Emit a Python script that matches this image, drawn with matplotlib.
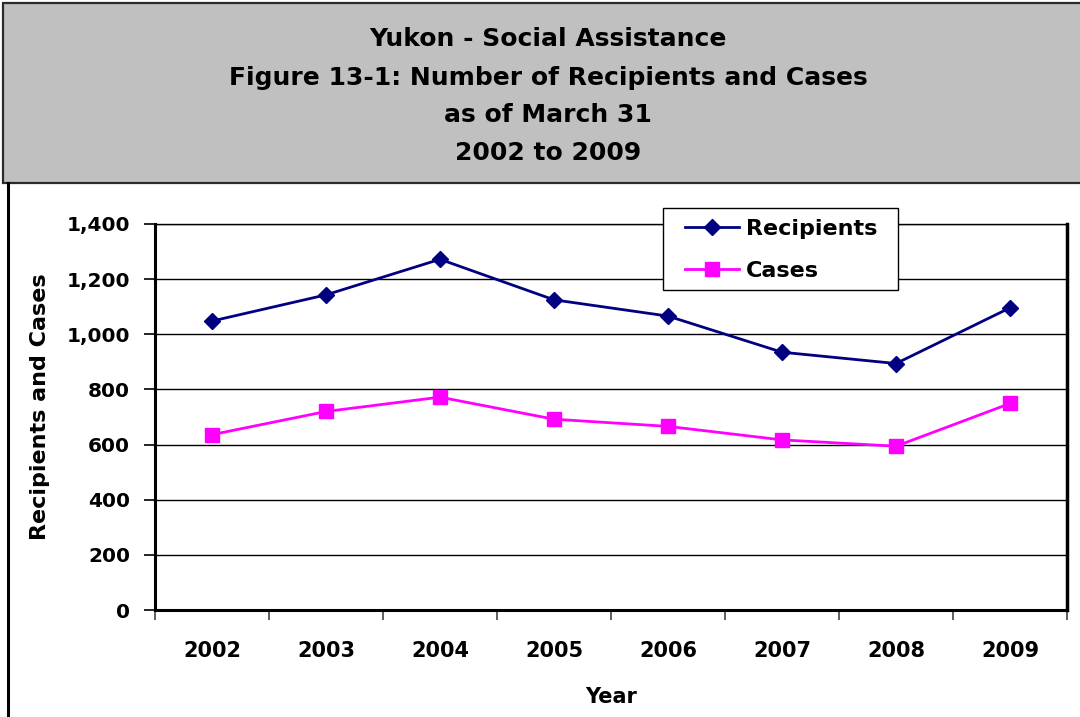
import matplotlib
matplotlib.use("Agg")
import matplotlib.pyplot as plt
from matplotlib.patches import Rectangle
from matplotlib.lines import Line2D
from matplotlib.ticker import FuncFormatter, FixedLocator, NullFormatter
import numpy as np

years = ["2002", "2003", "2004", "2005", "2006", "2007", "2008", "2009"]
recipients = [1048, 1143, 1272, 1125, 1066, 935, 894, 1096]
cases = [636, 720, 772, 692, 666, 617, 594, 749]
y_ticks = [0, 200, 400, 600, 800, 1000, 1200, 1400]
title_lines = [
    "Yukon - Social Assistance",
    "Figure 13-1: Number of Recipients and Cases",
    "as of March 31",
    "2002 to 2009",
]

W, H = 1080, 717
plt.rcParams["font.family"] = ["DejaVu Sans"]
plt.rcParams["font.weight"] = "bold"

fig = plt.figure(figsize=(W / 100, H / 100), dpi=100)
fig.patch.set_facecolor("white")


def fx(px):
    return px / W


def fy(py):
    return 1 - py / H


# Title band
fig.patches.append(Rectangle((fx(3), fy(183)), fx(1090) - fx(3), fy(3) - fy(183),
                             transform=fig.transFigure, facecolor="#C0C0C0",
                             edgecolor="#2b2b2b", linewidth=1.6, zorder=0))
fig.lines.append(Line2D([fx(7.5), fx(7.5)], [fy(183), fy(720)], transform=fig.transFigure,
                        color="black", linewidth=2.2))

for line, base in zip(title_lines, [46.5, 84.5, 122, 160]):
    fig.text(fx(548), fy(base), line, ha="center", va="baseline",
             fontsize=18, fontweight="bold", color="black")

# Plot area
left, right, top, bottom = 155, 1067, 224, 610
ax = fig.add_axes([fx(left), fy(bottom), fx(right) - fx(left), fy(top) - fy(bottom)])
x = np.arange(len(years))

ax.plot(x, recipients, color="#000080", linewidth=2.0, marker="D", markersize=8.6,
        label="Recipients", zorder=3)
ax.plot(x, cases, color="#FF00FF", linewidth=2.0, marker="s", markersize=10.5,
        label="Cases", zorder=3)

ax.set_xlim(-0.5, len(years) - 0.5)
ax.set_ylim(0, 1400)

ax.set_yticks(y_ticks)
ax.yaxis.set_major_formatter(FuncFormatter(lambda v, p: f"{int(v):,}"))
ax.tick_params(axis="y", direction="out", length=8, width=1.2, pad=10,
               labelsize=14.5, colors="black")
for lbl in ax.get_yticklabels():
    lbl.set_fontweight("bold")

ax.xaxis.set_major_locator(FixedLocator(np.arange(-0.5, len(years), 1.0)))
ax.xaxis.set_major_formatter(NullFormatter())
ax.xaxis.set_minor_locator(FixedLocator(x))
ax.set_xticklabels(years, minor=True, fontsize=15, fontweight="bold")
ax.tick_params(axis="x", which="major", direction="out", length=7, width=1.2, color="#444444")
ax.tick_params(axis="x", which="minor", length=0, pad=22)

ax.yaxis.grid(True, color="black", linewidth=1.0)
ax.set_axisbelow(True)

ax.spines["left"].set_linewidth(2.2)
ax.spines["bottom"].set_linewidth(2.2)
ax.spines["right"].set_linewidth(2.5)
ax.spines["top"].set_linewidth(1.0)
for s in ax.spines.values():
    s.set_color("black")

fig.text(fx(611), fy(703), "Year", ha="center", va="baseline", fontsize=15, fontweight="bold")
fig.text(fx(40), fy(407), "Recipients and Cases", ha="center", va="center", rotation=90,
         fontsize=16, fontweight="bold")

# Legend: frame drawn as its own box, entries placed inside it
fig.patches.append(Rectangle((fx(663), fy(290)), fx(898) - fx(663), fy(208) - fy(290),
                             transform=fig.transFigure, facecolor="white",
                             edgecolor="black", linewidth=1.0, zorder=5))
handles, labels = ax.get_legend_handles_labels()
leg = fig.legend(handles, labels, loc="upper left", bbox_to_anchor=(fx(685), fy(219)),
                 bbox_transform=fig.transFigure, borderaxespad=0, borderpad=0,
                 frameon=False, prop={"weight": "bold", "size": 16},
                 handlelength=2.45, handletextpad=0.3, labelspacing=0.97)
leg.set_zorder(6)

fig.savefig("out.png", dpi=100)
